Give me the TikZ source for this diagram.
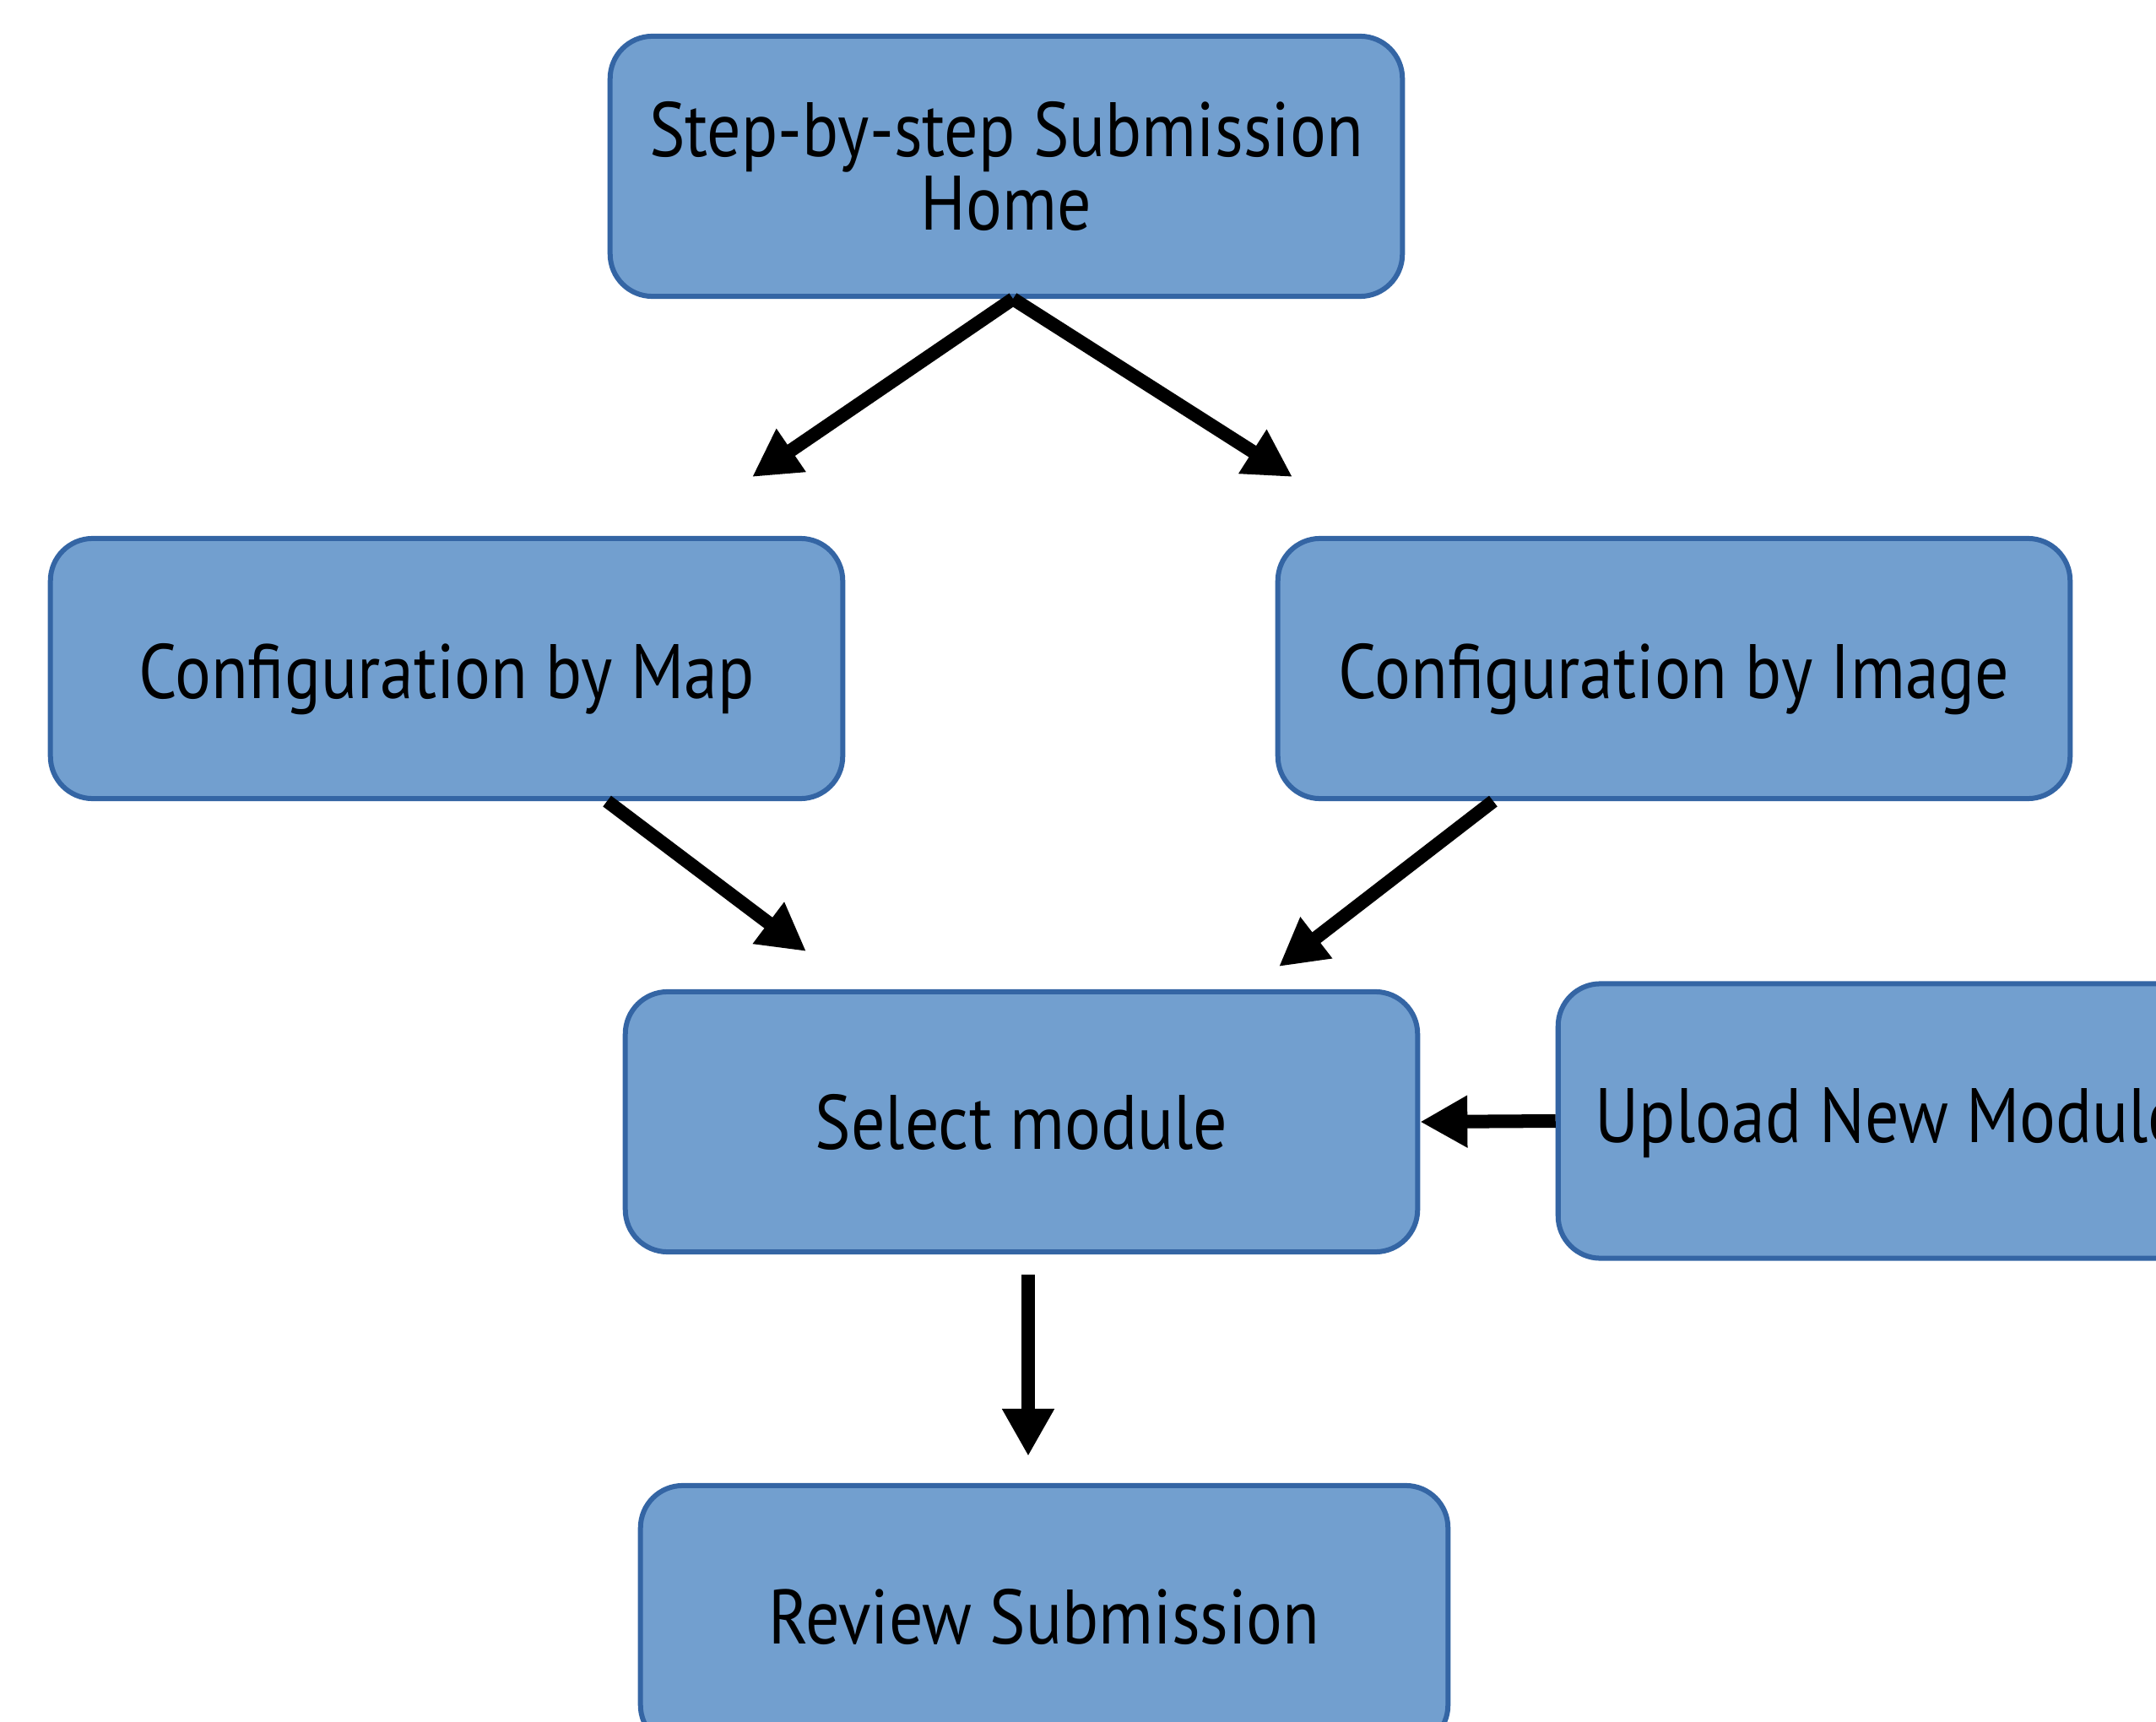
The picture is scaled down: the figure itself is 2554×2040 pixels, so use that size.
\documentclass[tikz,border=0pt]{standalone}
\usepackage{fontspec}
\setmainfont[FakeStretch=0.875]{PT Sans}
\usetikzlibrary{arrows.meta}
\definecolor{boxfill}{HTML}{729FCF}
\definecolor{boxline}{HTML}{3465A4}
\begin{document}
\begin{tikzpicture}[x=0.01cm,y=-0.01cm,
  box/.style={draw=boxline, fill=boxfill, line width=0.06cm, rounded corners=0.5cm,
    minimum width=9.38cm, minimum height=3.08cm, align=center, inner sep=0pt,
    font=\fontsize{26}{25}\selectfont},
  conn/.style={line width=0.16cm, -{Triangle[length=0.56cm,width=0.58cm]}}]
\useasboundingbox (0,0) rectangle (2554,2040);
\clip (0,0) rectangle (2554,2040);
\node[box] (home) at (1192,197) {Step-by-step Submission\\Home};
\node[box] (map) at (529,792) {\raisebox{-0.13cm}[\height][\depth]{Configuration by Map}};
\node[box] (image) at (1983,792) {\raisebox{-0.13cm}[\height][\depth]{Configuration by Image}};
\node[box] (select) at (1210,1329) {Select module};
\node[box, minimum height=3.25cm] (upload) at (2315,1328) {};
\node[anchor=west, font=\fontsize{26}{25}\selectfont, inner sep=0pt] (uploadtxt) at (1889,1330) {Upload New Module};
\node[box, minimum width=9.56cm, minimum height=3.1cm] (review) at (1237,1915) {Review Submission};
\coordinate (t1) at (891,565);
\coordinate (t2) at (1531,565);
\coordinate (t3) at (955,1127);
\coordinate (t4) at (1515,1145);
\coordinate (s5) at (1218,1510);
\coordinate (t5) at (1218,1725);
\draw[conn] ([xshift=0.08cm]home.south) -- (t1);
\draw[conn] ([xshift=0.08cm]home.south) -- (t2);
\draw[conn] ([xshift=6.62cm]map.south west) -- (t3);
\draw[conn] ([xshift=2.58cm]image.south west) -- (t4);
\draw[conn] (upload.west) -- (select.east);
\draw[conn] (s5) -- (t5);
\end{tikzpicture}
\end{document}
